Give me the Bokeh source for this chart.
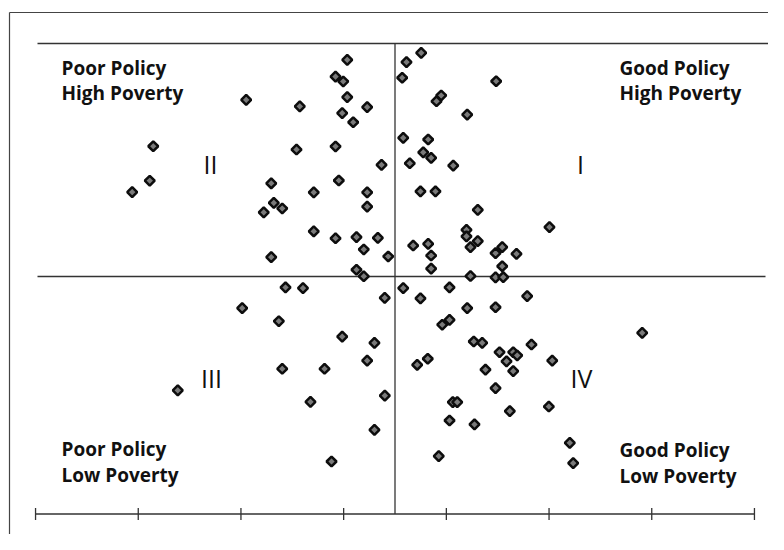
import math
from bokeh.plotting import figure
from bokeh.models import Range1d, Label
from bokeh.embed import file_html
from bokeh.resources import INLINE

# ---- data (policy index on x, poverty index on y) ----
policy = [
    # quadrant II
    -0.465, -0.579, -0.504, -1.449, -0.927, -0.465, -0.514, -0.271, -0.407, -2.354,
    -2.388, -2.559, -0.959, -0.579, -0.131, -1.205, -0.547, -0.791, -0.271, -1.180,
    -1.098, -1.278, -0.271, -0.791, -0.579, -0.375, -0.167, -0.304, -0.066, -1.205,
    -0.375, -0.304,
    # quadrant I
    0.255, 0.112, 0.070, 0.985, 0.450, 0.404, 0.703, 0.080, 0.323, 0.275,
    0.352, 0.144, 0.567, 0.248, 0.394, 0.806, 1.504, 0.696, 0.696, 0.735,
    0.806, 0.177, 0.323, 0.352, 0.352, 0.979, 1.044, 1.183, 1.044, 0.735,
    0.979, 1.054,
    # quadrant III
    -1.066, -0.896, -0.100, -1.488, -1.131, -0.514, -0.200, -0.271, -1.098, -0.686,
    -2.115, -0.099, -0.823, -0.200, -0.618,
    # quadrant IV
    0.080, 0.248, 0.531, 1.287, 0.703, 0.979, 0.460, 0.531, 0.767, 0.849,
    1.329, 1.018, 1.151, 1.190, 1.086, 1.531, 0.881, 1.151, 2.407, 0.216,
    0.319, 0.979, 0.563, 0.606, 1.498, 1.118, 0.531, 0.774, 1.702, 1.735,
    0.426,
]
poverty = [
    # quadrant II
    0.930, 0.858, 0.837, 0.758, 0.730, 0.770, 0.701, 0.727, 0.662, 0.559,
    0.411, 0.362, 0.545, 0.558, 0.479, 0.400, 0.412, 0.361, 0.361, 0.316,
    0.292, 0.275, 0.300, 0.194, 0.164, 0.169, 0.166, 0.116, 0.086, 0.083,
    0.029, 0.001,
    # quadrant I
    0.960, 0.920, 0.853, 0.838, 0.777, 0.752, 0.695, 0.595, 0.588, 0.533,
    0.509, 0.486, 0.476, 0.365, 0.365, 0.286, 0.212, 0.200, 0.172, 0.126,
    0.152, 0.133, 0.140, 0.090, 0.034, 0.100, 0.126, 0.097, 0.044, 0.002,
    -0.004, -0.003,
    # quadrant III
    -0.047, -0.050, -0.092, -0.136, -0.192, -0.258, -0.285, -0.361, -0.396, -0.396,
    -0.489, -0.511, -0.538, -0.658, -0.794,
    # quadrant IV
    -0.050, -0.094, -0.047, -0.084, -0.136, -0.132, -0.207, -0.186, -0.279, -0.285,
    -0.292, -0.325, -0.325, -0.339, -0.364, -0.361, -0.400, -0.406, -0.242, -0.379,
    -0.353, -0.479, -0.539, -0.539, -0.558, -0.578, -0.618, -0.635, -0.714, -0.801,
    -0.771,
]

tick_positions = [-3.5, -2.5, -1.5, -0.5, 0.5, 1.5, 2.5, 3.5]
roman_labels = ["I", "II", "III", "IV"]
corner_labels = [["Poor Policy", "High Poverty"], ["Good Policy", "High Poverty"],
                 ["Poor Policy", "Low Poverty"], ["Good Policy", "Low Poverty"]]

# ---- layout helpers (image pixels -> data units) ----
W, H = 768, 534
OX, OY = 394.5, 276.0      # pixel position of data origin
SX, SY = 102.7, 233.0      # pixels per data unit


def cx(px):
    return (px - OX) / SX


def cy(py):
    return (OY - py) / SY


p = figure(width=W, height=H, output_backend="svg", toolbar_location=None,
           x_axis_type=None, y_axis_type=None, min_border=0,
           x_range=Range1d(cx(0), cx(W)), y_range=Range1d(cy(H), cy(0)))
p.outline_line_color = None
p.grid.visible = False
p.background_fill_color = "white"
p.border_fill_color = "white"

LC = "#333333"
# outer frame (top + left)
p.segment(x0=[cx(9), cx(9)], y0=[cy(12), cy(12)], x1=[cx(800), cx(9)], y1=[cy(12), cy(560)],
          line_color="#444444", line_width=1.2)
# top line and horizontal zero line
p.segment(x0=[cx(37), cx(37)], y0=[1.0, 0.0], x1=[cx(769), cx(765)], y1=[1.0, 0.0],
          line_color=LC, line_width=1.3)
# bottom axis
AXY = cy(513.5)
p.segment(x0=[tick_positions[0]], y0=[AXY], x1=[tick_positions[-1]], y1=[AXY],
          line_color=LC, line_width=1.3)
TK = 6 / SY
p.segment(x0=tick_positions, y0=[AXY - TK] * len(tick_positions),
          x1=tick_positions, y1=[AXY + TK] * len(tick_positions),
          line_color=LC, line_width=1.3)
# vertical zero line
p.segment(x0=[0.0], y0=[AXY], x1=[0.0], y1=[1.0], line_color=LC, line_width=1.3)

# points
p.scatter(policy, poverty, marker="square", angle=math.pi / 4, size=7,
          fill_color="#7a7a7a", line_color="#0d0d0d", line_width=2.5)

FONT = "Open Sans"
# corner labels
corner_pos = [(61, 67, 92), (619, 67, 92), (61, 448, 474), (619, 449, 475)]
for lines, (lx, b1, b2) in zip(corner_labels, corner_pos):
    for txt, by in zip(lines, (b1, b2)):
        p.add_layout(Label(x=cx(lx), y=cy(by), text=txt, text_font=FONT,
                           text_font_size="19px", text_font_style="bold",
                           text_color="#111111",
                           text_align="left", text_baseline="alphabetic"))

# roman numerals
roman_pos = [(580, 163), (210, 163), (211, 377), (581, 377)]
for txt, (rx, ry) in zip(roman_labels, roman_pos):
    p.add_layout(Label(x=cx(rx), y=cy(ry), text=txt, text_font=FONT,
                       text_font_size="25px", text_color="#111111",
                       text_align="center", text_baseline="alphabetic"))

open("out.html", "w").write(file_html(p, INLINE))
